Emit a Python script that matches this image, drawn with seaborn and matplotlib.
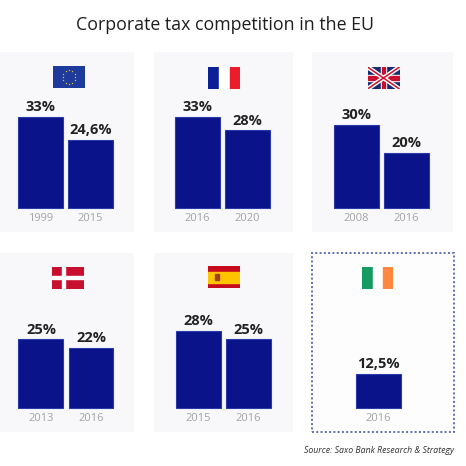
import numpy as np
import matplotlib.pyplot as plt
import matplotlib.patches as mpatches
import seaborn as sns

# chart data
countries = ['EU', 'France', 'UK', 'Denmark', 'Spain', 'Ireland']
years = [['1999', '2015'], ['2016', '2020'], ['2008', '2016'],
         ['2013', '2016'], ['2015', '2016'], ['2016']]
rates = [[33, 24.6], [33, 28], [30, 20], [25, 22], [28, 25], [12.5]]

title = 'Corporate tax competition in the EU'
source = 'Source: Saxo Bank Research & Strategy'

W = H = 466
navy = '#0a138a'

# panel boxes in pixels (left, top, right, bottom) and x-limits
boxes = [(0, 52, 134, 232), (154, 52, 293, 232), (312, 52, 453, 232),
         (0, 253, 134, 432), (154, 253, 293, 432), (312, 253, 454, 432)]
xlims = [(-0.81, 1.87), (-0.87, 1.91), (-0.88, 1.94),
         (-0.82, 1.86), (-0.88, 1.90), (-1.32, 1.52)]
flag_pos = [(69, 77), (224, 77.5), (383.5, 78), (68, 277.5), (224, 277), (377.5, 277.5)]

sns.set_style('white')
plt.rcParams['font.family'] = ['Open Sans', 'DejaVu Sans']


def px_axes(fig, l, t, r, b):
    return fig.add_axes([l / W, 1 - b / H, (r - l) / W, (b - t) / H])


def draw_flag(ax, name):
    ax.set_xlim(0, 3)
    ax.set_ylim(0, 2)
    ax.axis('off')
    R = mpatches.Rectangle
    if name == 'EU':
        ax.add_patch(R((0, 0), 3, 2, color='#1d3a9c'))
        ang = np.arange(12) * np.pi / 6
        ax.scatter(1.5 + 0.6 * np.cos(ang), 1 + 0.6 * np.sin(ang), marker='*',
                   s=2.5, color='#f2d21b', linewidths=0)
    elif name == 'France':
        ax.add_patch(R((0, 0), 0.95, 2, color='#0d1f96'))
        ax.add_patch(R((1.05, 0), 0.9, 2, color='white'))
        ax.add_patch(R((2.05, 0), 0.95, 2, color='#ed1c2a'))
    elif name == 'UK':
        ax.add_patch(R((0, 0), 3, 2, color='#1b2a6e'))
        ax.plot([0, 3], [0, 2], color='white', lw=3.2, solid_capstyle='butt')
        ax.plot([0, 3], [2, 0], color='white', lw=3.2, solid_capstyle='butt')
        ax.plot([0, 3], [0, 2], color='#c8102e', lw=1.1, solid_capstyle='butt')
        ax.plot([0, 3], [2, 0], color='#c8102e', lw=1.1, solid_capstyle='butt')
        ax.add_patch(R((1.25, 0), 0.5, 2, color='white'))
        ax.add_patch(R((0, 0.75), 3, 0.5, color='white'))
        ax.add_patch(R((1.35, 0), 0.3, 2, color='#c8102e'))
        ax.add_patch(R((0, 0.85), 3, 0.3, color='#c8102e'))
    elif name == 'Denmark':
        ax.add_patch(R((0, 0), 3, 2, color='#c8102e'))
        ax.add_patch(R((0.95, 0), 0.3, 2, color='white'))
        ax.add_patch(R((0, 0.86), 3, 0.28, color='white'))
    elif name == 'Spain':
        ax.add_patch(R((0, 0), 3, 2, color='#c60b1e'))
        ax.add_patch(R((0, 0.5), 3, 1, color='#ffc400'))
        ax.add_patch(R((0.7, 0.7), 0.35, 0.6, color='#a0401e'))
    elif name == 'Ireland':
        ax.add_patch(R((0, 0), 0.95, 2, color='#169b62'))
        ax.add_patch(R((1.05, 0), 0.9, 2, color='white'))
        ax.add_patch(R((2.05, 0), 0.95, 2, color='#ff883e'))


fig = plt.figure(figsize=(W / 100, H / 100), dpi=100, facecolor='white')

for i, name in enumerate(countries):
    ax = px_axes(fig, *boxes[i])
    sns.barplot(x=years[i], y=rates[i], ax=ax, color=navy, saturation=1,
                width=0.9, edgecolor='#2a3aa8', linewidth=0.8)
    ax.set_facecolor('#fdfdfe' if name == 'Ireland' else '#f8f8fa')
    ax.set_xlim(*xlims[i])
    ax.set_ylim(-8.5, 56.2)
    ax.set_xlabel('')
    ax.set_ylabel('')
    ax.set_yticks([])
    for s in ax.spines.values():
        s.set_visible(False)
    ax.spines['bottom'].set_position(('data', 0))
    ax.tick_params(axis='x', length=0, pad=3.5, labelsize=8, labelcolor='#a3a3a3')
    labels = [f'{v:g}'.replace('.', ',') + '%' for v in rates[i]]
    ax.bar_label(ax.containers[0], labels=labels, padding=2, fontsize=10.5,
                 fontweight='bold', color='#222222')
    if name == 'Ireland':
        ax.add_patch(mpatches.Rectangle((0, 0), 1, 1, transform=ax.transAxes, fill=False,
                                        ls=(0, (1, 1.2)), ec='#5c6cb4', lw=1.4, clip_on=False))
    cx, cy = flag_pos[i]
    fax = px_axes(fig, cx - 16, cy - 11, cx + 16, cy + 11)
    draw_flag(fax, name)

fig.text(225 / W, 1 - 30 / H, title, ha='center', va='baseline', fontsize=12.8, color='#1e1e1e')
fig.text(454 / W, 1 - 453 / H, source, ha='right', va='baseline', fontsize=6.3,
         style='italic', color='#333333')

fig.savefig('out.png', dpi=100, facecolor='white')
